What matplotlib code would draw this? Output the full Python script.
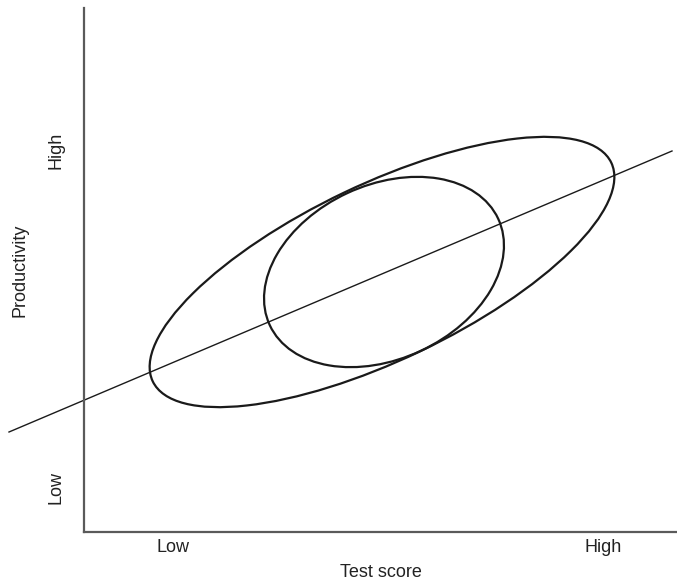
import matplotlib
matplotlib.use("Agg")
import matplotlib.pyplot as plt
from matplotlib.patches import Ellipse

plt.rcParams['font.family'] = ['Liberation Sans', 'DejaVu Sans']

# Axis extent (arbitrary units)
x_range = (0, 593)
y_range = (0, 524)

# Tick positions and labels
x_ticks = [89, 519]
x_tick_labels = ["Low", "High"]
y_ticks = [44, 382]
y_tick_labels = ["Low", "High"]

# Scatter ellipses: center x, center y, full width, full height, angle (deg)
big_ellipse = (298, 260, 508, 176, 25.5)
small_ellipse = (300, 260, 252, 174, 25.0)

# Regression line endpoints
line_x = [-75, 588]
line_y = [100, 381]

fig = plt.figure(figsize=(6.77, 5.85), dpi=100)
ax = fig.add_axes([84 / 677, 53 / 585, 593 / 677, 524 / 585])
ax.set_xlim(*x_range)
ax.set_ylim(*y_range)

for cx, cy, w, h, ang in (big_ellipse, small_ellipse):
    ax.add_patch(Ellipse((cx, cy), w, h, angle=ang, fill=False,
                         edgecolor="#1a1a1a", linewidth=1.6))

ax.plot(line_x, line_y, color="#1a1a1a", linewidth=1.0, clip_on=False)

for side in ("top", "right"):
    ax.spines[side].set_visible(False)
for side in ("left", "bottom"):
    ax.spines[side].set_color("#5a5a5a")
    ax.spines[side].set_linewidth(1.6)

ax.set_xticks(x_ticks)
ax.set_xticklabels(x_tick_labels, fontsize=13, color="#222222")
ax.set_yticks(y_ticks)
ax.set_yticklabels(y_tick_labels, fontsize=13, color="#222222",
                   rotation=90, va="center")
ax.tick_params(axis="x", length=0, pad=5)
ax.tick_params(axis="y", length=0, pad=14)

ax.set_xlabel("Test score", fontsize=13, color="#222222", labelpad=6)
ax.set_ylabel("Productivity", fontsize=13, color="#222222", labelpad=14)

fig.savefig("out.png", dpi=100)
